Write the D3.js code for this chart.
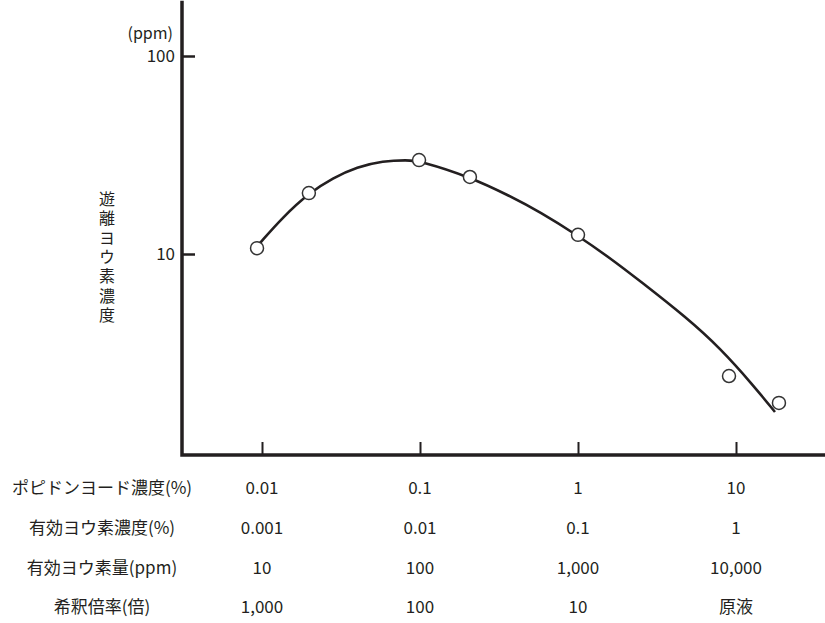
<!DOCTYPE html>
<html>
<head>
<meta charset="utf-8">
<script src="https://cdn.jsdelivr.net/npm/d3@7"></script>
<style>
  body { margin: 0; background: #fff; }
  text { font-family: "Noto Sans CJK JP", "Noto Sans", sans-serif; fill: #231f20; }
</style>
</head>
<body>
<div id="chart"></div>
<script>
// measured points (povidone-iodine % vs free iodine ppm)
var pointX = [0.0093, 0.0198, 0.0986, 0.207, 1, 9.03, 18.7];
var pointY = [10.7, 20.3, 29.8, 24.5, 12.5, 2.42, 1.77];

// fitted curve
var curveX = [0.00971, 0.01358, 0.0198, 0.02814, 0.03993, 0.05833, 0.08275, 0.1, 0.207, 0.3711, 0.5748, 0.9855, 1.594, 2.469, 4.897, 7.921, 12.81, 17.65];
var curveY = [11.36, 15.37, 20.3, 24.21, 27.51, 29.49, 29.84, 29.49, 24.5, 19.63, 16.3, 12.47, 9.546, 7.305, 4.75, 3.35, 2.18, 1.592];

var xTicks = [0.01, 0.1, 1, 10];
var yTicks = [10, 100];

// table under the x axis
var rowLabels = ["ポピドンヨード濃度(%)", "有効ヨウ素濃度(%)", "有効ヨウ素量(ppm)", "希釈倍率(倍)"];
var rowValues = [
  ["0.01", "0.1", "1", "10"],
  ["0.001", "0.01", "0.1", "1"],
  ["10", "100", "1,000", "10,000"],
  ["1,000", "100", "10", "原液"]
];

var yTitle = "遊離ヨウ素濃度";
var yUnit = "(ppm)";

var width = 825, height = 623;
var ink = "#231f20";

var svg = d3.select("#chart").append("svg")
  .attr("width", width)
  .attr("height", height);

var x = d3.scaleLog().domain([0.01, 10]).range([262, 736]);
var y = d3.scaleLog().domain([1, 100]).range([452, 56]);

var axisX = 182, axisY = 455;

// y axis ticks + labels
var yAxis = svg.append("g")
  .attr("transform", "translate(" + axisX + ",0)")
  .call(d3.axisLeft(y).tickValues(yTicks).tickSizeInner(-13).tickSizeOuter(0).tickPadding(7).tickFormat(d3.format("d")));
yAxis.select(".domain").remove();
yAxis.selectAll(".tick line").attr("stroke", ink).attr("stroke-width", 2.5);
yAxis.selectAll(".tick text").attr("font-size", 17).attr("font-family", null).attr("fill", ink);

// x axis ticks (labels are in the table)
var xAxis = svg.append("g")
  .attr("transform", "translate(0," + axisY + ")")
  .call(d3.axisBottom(x).tickValues(xTicks).tickSizeInner(-13).tickSizeOuter(0).tickFormat(""));
xAxis.select(".domain").remove();
xAxis.selectAll(".tick line").attr("stroke", ink).attr("stroke-width", 2);

// axis lines
svg.append("path")
  .attr("d", "M" + axisX + "," + y(190) + "V" + axisY + "H" + width)
  .attr("fill", "none")
  .attr("stroke", ink)
  .attr("stroke-width", 3.5);

// unit label
svg.append("text")
  .attr("x", 173).attr("y", 39)
  .attr("text-anchor", "end")
  .attr("font-size", 16)
  .text(yUnit);

// vertical title
svg.append("text")
  .attr("x", 107)
  .attr("y", 191)
  .attr("font-size", 16)
  .style("writing-mode", "vertical-rl")
  .style("letter-spacing", "3.3px")
  .text(yTitle);

// curve (smoothed through the read points)
var line = d3.line()
  .x(function(d) { return x(d[0]); })
  .y(function(d) { return y(d[1]); })
  .curve(d3.curveBasis);

svg.append("path")
  .datum(d3.zip(curveX, curveY))
  .attr("d", line)
  .attr("fill", "none")
  .attr("stroke", ink)
  .attr("stroke-width", 2.6);

// points
svg.append("g").selectAll("circle")
  .data(d3.zip(pointX, pointY))
  .join("circle")
  .attr("cx", function(d) { return x(d[0]); })
  .attr("cy", function(d) { return y(d[1]); })
  .attr("r", 6.5)
  .attr("fill", "#fff")
  .attr("stroke", "#333")
  .attr("stroke-width", 1.5);

// table
var rowY = [494, 534, 574, 613];
rowLabels.forEach(function(label, i) {
  svg.append("text")
    .attr("x", 102).attr("y", rowY[i])
    .attr("text-anchor", "middle")
    .attr("font-size", 17)
    .text(label);
  svg.append("g").selectAll("text")
    .data(rowValues[i])
    .join("text")
    .attr("x", function(d, j) { return x(xTicks[j]); })
    .attr("y", rowY[i])
    .attr("text-anchor", "middle")
    .attr("font-size", 17)
    .text(function(d) { return d; });
});
</script>
</body>
</html>
